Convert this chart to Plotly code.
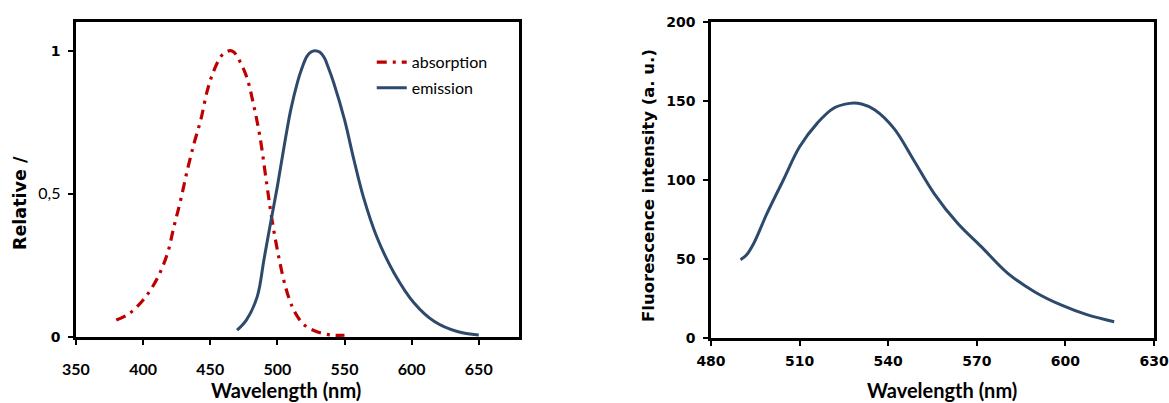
import plotly.graph_objects as go

# Left panel: normalised absorption / emission spectra
abs_wl = [380, 390, 400, 410, 418, 423, 428, 433, 438, 443, 448, 453, 458, 461.5, 465,
          467.5, 470, 477, 482, 487, 492, 496, 501, 506, 511, 515, 520, 529, 540, 550]
abs_val = [0.059, 0.083, 0.129, 0.20, 0.29, 0.386, 0.479, 0.584, 0.677, 0.759, 0.864,
           0.934, 0.98, 0.995, 1.0, 0.995, 0.98, 0.91, 0.817, 0.70, 0.537, 0.409, 0.28,
           0.176, 0.106, 0.071, 0.042, 0.019, 0.007, 0.006]

em_wl = [470, 477, 485, 490, 495, 500, 505, 510, 515, 518, 522, 525, 528, 531.5, 535,
         538, 542, 550, 557, 564, 574, 587, 602, 617, 634, 650]
em_val = [0.024, 0.06, 0.141, 0.27, 0.40, 0.526, 0.665, 0.794, 0.89, 0.935, 0.98, 0.995,
          1.0, 0.995, 0.975, 0.94, 0.887, 0.759, 0.619, 0.49, 0.35, 0.223, 0.118, 0.054,
          0.019, 0.007]

# Right panel: fluorescence intensity spectrum
fl_wl = [490, 492, 494.5, 499, 504.5, 510, 516, 521.5, 527, 531, 535.5, 542, 548.5,
         555.5, 563.5, 571.5, 580.5, 589.5, 598.5, 607.5, 616.5]
fl_val = [49.5, 52.5, 60, 79, 100, 121, 136, 145.4, 148.5, 148.1, 144.3, 132.5, 113,
          91.6, 72.6, 57.8, 40.9, 29.3, 20.9, 14.6, 10.3]

left_xticks = [350, 400, 450, 500, 550, 600, 650]
left_yticks = [0, 0.5, 1]
left_ytext = ["<b>0</b>", "<span style='font-family:Lato;font-size:16px;font-weight:normal'>0,5</span>", "<b>1</b>"]
right_xticks = [480, 510, 540, 570, 600, 630]
right_yticks = [0, 50, 100, 150, 200]

RED = "#c00000"
BLUE = "#2d4a6d"
XTITLE_FONT = dict(family="Lato", size=20, color="#000000")

fig = go.Figure()

fig.add_trace(go.Scatter(
    x=abs_wl, y=abs_val, name="absorption", mode="lines",
    line=dict(color=RED, width=3.2, dash="10px,6px,3px,6px", shape="spline", smoothing=1.0),
    xaxis="x", yaxis="y", legendgroup="a",
))
fig.add_trace(go.Scatter(
    x=em_wl, y=em_val, name="emission", mode="lines",
    line=dict(color=BLUE, width=3, shape="spline", smoothing=1.0),
    xaxis="x", yaxis="y", legendgroup="b",
))
fig.add_trace(go.Scatter(
    x=fl_wl, y=fl_val, mode="lines", showlegend=False,
    line=dict(color=BLUE, width=3, shape="spline", smoothing=1.0),
    xaxis="x2", yaxis="y2",
))

axis_common = dict(
    showline=True, linecolor="#000000", linewidth=2.5, mirror=True,
    ticks="outside", ticklen=5, tickwidth=2, tickcolor="#000000",
    showgrid=False, zeroline=False, automargin=False,
)

fig.update_layout(
    width=1169, height=403,
    margin=dict(l=0, r=0, t=0, b=0),
    paper_bgcolor="#ffffff", plot_bgcolor="#ffffff",
    xaxis=dict(domain=[0.065, 0.444], range=[350, 680], tickvals=left_xticks,
               tickfont=dict(family="Lato", size=16, color="#000000", weight=700),
               ticklabelstandoff=11, anchor="y", **axis_common),
    yaxis=dict(domain=[0.1638, 0.9454], range=[0, 1.1], tickvals=left_yticks,
               ticktext=left_ytext,
               tickfont=dict(family="DejaVu Sans", size=14, color="#000000"),
               ticklabelstandoff=5, anchor="x", **axis_common),
    xaxis2=dict(domain=[0.6082, 0.9872], range=[480, 630], tickvals=right_xticks,
                tickfont=dict(family="DejaVu Sans", size=14, color="#000000", weight=700),
                ticklabelstandoff=3, anchor="y2", **axis_common),
    yaxis2=dict(domain=[0.1613, 0.9454], range=[0, 200], tickvals=right_yticks,
                tickfont=dict(family="DejaVu Sans", size=14, color="#000000", weight=700),
                ticklabelstandoff=5, anchor="x2", **axis_common),
    legend=dict(x=0.318, y=0.888, xanchor="left", yanchor="top",
                bgcolor="rgba(0,0,0,0)", tracegroupgap=2,
                font=dict(family="Lato", size=16, color="#000000")),
    showlegend=True,
    annotations=[
        dict(text="<b>Wavelength (nm)</b>", x=286 / 1169, y=(403 - 390) / 403,
             xanchor="center", yanchor="middle",
             xref="paper", yref="paper", showarrow=False, font=XTITLE_FONT),
        dict(text="<b>Relative /</b>", x=20 / 1169, y=(403 - 203) / 403, textangle=-90,
             xanchor="center", yanchor="middle",
             xref="paper", yref="paper", showarrow=False,
             font=dict(family="DejaVu Sans", size=17.5, color="#000000")),
        dict(text="<b>Wavelength (nm)</b>", x=942 / 1169, y=(403 - 390) / 403,
             xanchor="center", yanchor="middle",
             xref="paper", yref="paper", showarrow=False, font=XTITLE_FONT),
        dict(text="<b>Fluorescence intensity (a. u.)</b>", x=648 / 1169,
             y=(403 - 186) / 403, textangle=-90,
             xanchor="center", yanchor="middle",
             xref="paper", yref="paper", showarrow=False,
             font=dict(family="DejaVu Sans", size=16.5, color="#000000")),
    ],
)

fig.write_html("out.html")
